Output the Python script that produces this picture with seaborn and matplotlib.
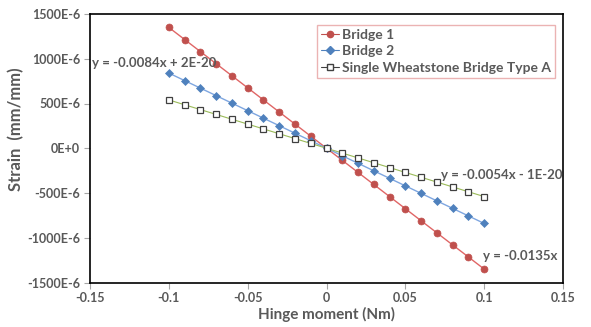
import matplotlib
matplotlib.use("Agg")
import matplotlib.pyplot as plt
import matplotlib.ticker as mticker
import seaborn as sns
import pandas as pd

# Hinge moment (Nm)
moment = [-0.10, -0.09, -0.08, -0.07, -0.06, -0.05, -0.04, -0.03, -0.02, -0.01, 0.00,
          0.01, 0.02, 0.03, 0.04, 0.05, 0.06, 0.07, 0.08, 0.09, 0.10]

# Strain in units of 1E-6 mm/mm
bridge1 = [1350, 1215, 1080, 945, 810, 675, 540, 405, 270, 135, 0,
           -135, -270, -405, -540, -675, -810, -945, -1080, -1215, -1350]
bridge2 = [840, 756, 672, 588, 504, 420, 336, 252, 168, 84, 0,
           -84, -168, -252, -336, -420, -504, -588, -672, -756, -840]
single_a = [540, 486, 432, 378, 324, 270, 216, 162, 108, 54, 0,
            -54, -108, -162, -216, -270, -324, -378, -432, -486, -540]

SERIES = ["Bridge 1", "Bridge 2", "Single Wheatstone Bridge Type A"]
TRENDS = ["y = -0.0135x", "y = -0.0084x + 2E-20", "y = -0.0054x - 1E-20"]

sns.set_style("white")
plt.rcParams["font.family"] = ["Lato", "DejaVu Sans"]
plt.rcParams["font.weight"] = "bold"
GREY = "#595959"

fig = plt.figure(figsize=(5.91, 3.27), dpi=100)
ax = fig.add_axes([90 / 591, 1 - 282.5 / 327, 473 / 591, 268.5 / 327])

styles = [
    dict(color="#C0504D", marker="o", markersize=5, mfc="#C0504D", mec="#C0504D", lw=1.0),
    dict(color="#4F81BD", marker="D", markersize=4.5, mfc="#4F81BD", mec="#4F81BD", lw=1.0),
    dict(color="#7F7F7F", marker="s", markersize=4.6, mfc="white", mec="#404040", mew=0.9, lw=0.8),
]
line_colors = ["#E06666", "#7EA6E0", "#9BBB59"]

for name, vals, st, lc in zip(SERIES, [bridge1, bridge2, single_a], styles, line_colors):
    df = pd.DataFrame({"x": moment, "y": vals})
    # trendline-like connecting line
    sns.lineplot(data=df, x="x", y="y", ax=ax, color=lc, lw=st["lw"], zorder=2)
    ax.plot(df["x"], df["y"], linestyle="none", marker=st["marker"], markersize=st["markersize"],
            markerfacecolor=st["mfc"], markeredgecolor=st["mec"], markeredgewidth=st.get("mew", 0.5),
            zorder=3)

# legend proxies
handles = []
for name, st, lc in zip(SERIES, styles, line_colors):
    h, = ax.plot([], [], color=st["color"] if name != SERIES[2] else "#404040", lw=0.8,
                 marker=st["marker"], markersize=st["markersize"] - 0.5,
                 markerfacecolor=st["mfc"], markeredgecolor=st["mec"], label=name)
    handles.append(h)
leg = ax.legend(handles=handles, loc="upper left", bbox_to_anchor=(227 / 473, 1 - 11 / 268.5),
                frameon=True, fancybox=False, fontsize=10, handlelength=1.3, handletextpad=0.2,
                borderpad=0.3, labelspacing=0.3, borderaxespad=0)
leg.get_frame().set_edgecolor("#E6A0A0")
leg.get_frame().set_linewidth(1.0)
for t in leg.get_texts():
    t.set_color(GREY)
    t.set_fontweight("bold")

ax.text(-0.1487, 953, TRENDS[1], fontsize=9.5, color=GREY, fontweight="bold", va="center", ha="left")
ax.text(0.0726, -297, TRENDS[2], fontsize=9.5, color=GREY, fontweight="bold", va="center", ha="left")
ax.text(0.0993, -1202, TRENDS[0], fontsize=9.5, color=GREY, fontweight="bold", va="center", ha="left")

ax.set_xlim(-0.15, 0.15)
ax.set_ylim(-1500, 1500)
ax.xaxis.set_major_locator(mticker.MultipleLocator(0.05))
ax.yaxis.set_major_locator(mticker.MultipleLocator(500))
ax.xaxis.set_major_formatter(mticker.FuncFormatter(lambda v, p: "0" if abs(v) < 1e-9 else f"{v:g}"))
ax.yaxis.set_major_formatter(mticker.FuncFormatter(lambda v, p: "0E+0" if abs(v) < 1e-9 else f"{v:.0f}E-6"))

ax.tick_params(axis="both", which="major", direction="out", length=4, width=0.8, color="#A6A6A6",
               labelsize=9, labelcolor=GREY, left=True, bottom=True, pad=3)
for lab in ax.get_xticklabels() + ax.get_yticklabels():
    lab.set_fontweight("bold")

for s in ax.spines.values():
    s.set_color("black")
    s.set_linewidth(1.2)

ax.set_xlabel("Hinge moment (Nm)", fontsize=11, color=GREY, fontweight="bold", labelpad=2)
ax.set_ylabel("Strain  (mm/mm)", fontsize=12, color=GREY, fontweight="bold", labelpad=4)
ax.yaxis.set_label_coords(-0.14, 0.57)

fig.savefig("out.png", dpi=100)
